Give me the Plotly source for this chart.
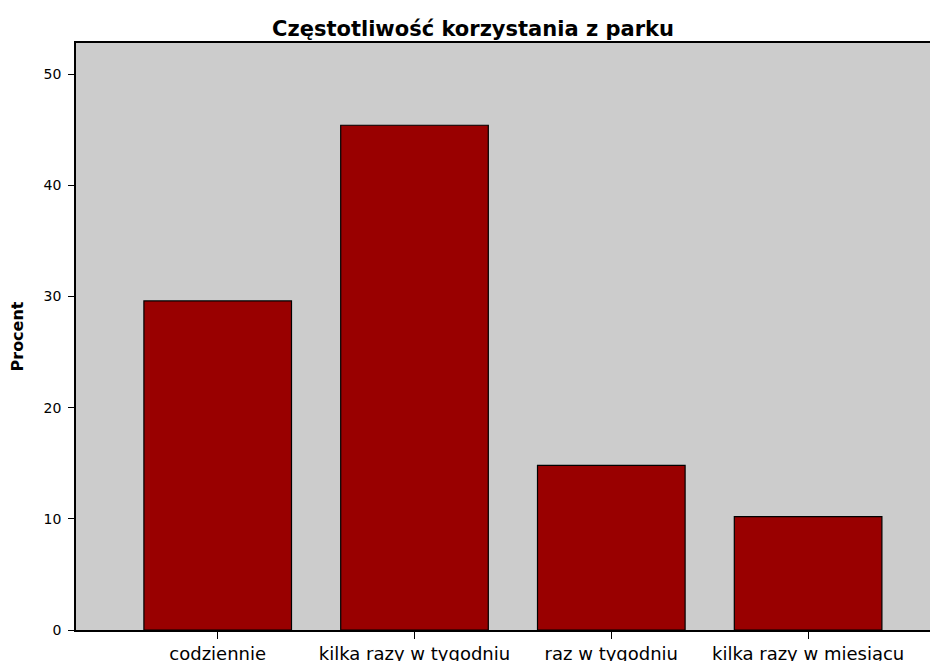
import plotly.graph_objects as go

categories = ["codziennie", "kilka razy w tygodniu", "raz w tygodniu", "kilka razy w miesiącu"]
percent = [29.6, 45.4, 14.8, 10.2]
y_ticks = [0, 10, 20, 30, 40, 50]

fig = go.Figure(
    go.Bar(
        x=categories,
        y=percent,
        width=0.75,
        marker=dict(color="#990000", line=dict(color="#000000", width=1.2)),
    )
)

font_family = "DejaVu Sans, Arial, sans-serif"

fig.update_layout(
    width=930,
    height=653,
    margin=dict(l=68, r=0, t=35, b=31),
    paper_bgcolor="#ffffff",
    plot_bgcolor="#cccccc",
    showlegend=False,
    font=dict(family=font_family, color="#000000", size=14),
    title=dict(
        text="<b>Częstotliwość korzystania z parku</b>",
        x=0.5,
        xref="container",
        xanchor="center",
        y=0.969,
        yref="container",
        yanchor="middle",
        font=dict(size=21, family=font_family, color="#000000"),
    ),
)

fig.update_xaxes(
    range=[-0.72, 3.66],
    automargin=False,
    showline=True,
    linecolor="#000000",
    linewidth=1.5,
    mirror=True,
    ticks="outside",
    ticklen=7,
    tickcolor="#000000",
    tickfont=dict(size=18),
    showgrid=False,
)

fig.update_yaxes(
    range=[0, 52.8],
    automargin=False,
    tickvals=y_ticks,
    ticktext=[str(v) for v in y_ticks],
    showline=True,
    linecolor="#000000",
    linewidth=1.5,
    ticks="outside",
    ticklen=6,
    tickcolor="#000000",
    tickfont=dict(size=14),
    ticklabelstandoff=4,
    showgrid=False,
    zeroline=False,
    title=dict(text="<b>Procent</b>", font=dict(size=16), standoff=20),
)

fig.write_html("out.html")
